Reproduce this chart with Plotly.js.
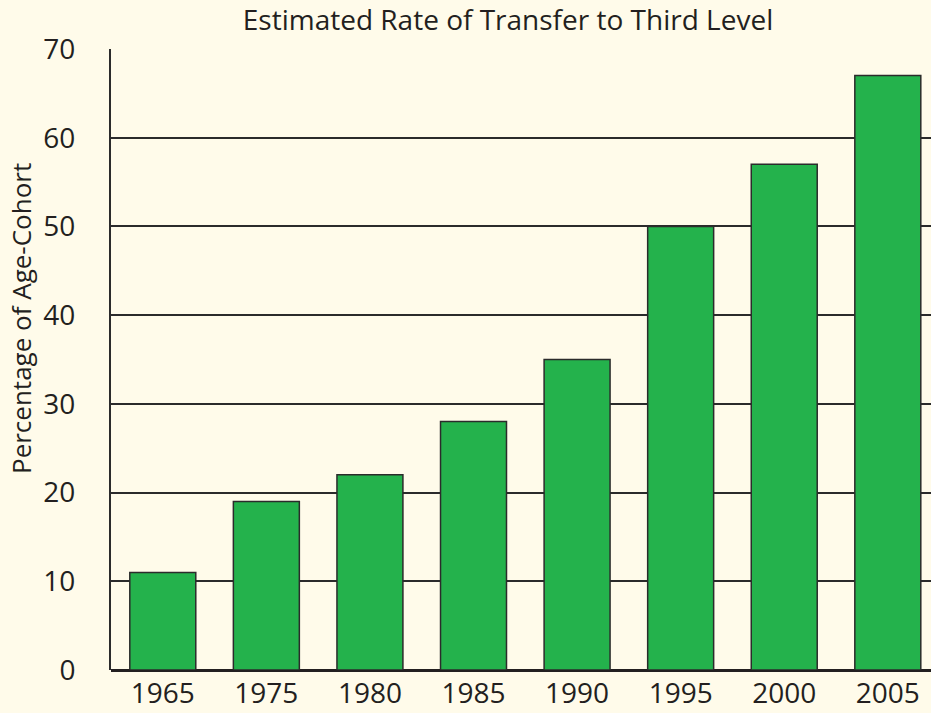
<!DOCTYPE html>
<html>
<head>
<meta charset="utf-8">
<script src="https://cdn.plot.ly/plotly-3.0.1.min.js"></script>
<style>html,body{margin:0;padding:0;background:#FFFBEA;}#chart{width:931px;height:713px;}</style>
</head>
<body>
<div id="chart"></div>
<script>
const years = ['1965','1975','1980','1985','1990','1995','2000','2005'];
const rates = [11, 19, 22, 28, 35, 50, 57, 67];
const yTicks = [0, 10, 20, 30, 40, 50, 60, 70];

const FONT = 'Open Sans, sans-serif';
const INK = '#231F20';

const trace = {
  type: 'bar',
  x: years,
  y: rates,
  width: 0.637,
  marker: {color: '#24B24C', line: {color: '#2b2b2b', width: 1.5}},
  hoverinfo: 'x+y'
};

const layout = {
  width: 931, height: 713,
  paper_bgcolor: '#FFFBEA', plot_bgcolor: '#FFFBEA',
  margin: {l: 111, r: 0, t: 49, b: 43},
  showlegend: false,
  font: {family: FONT, color: INK, size: 28},
  title: {text: 'Estimated Rate of Transfer to Third Level', font: {family: FONT, size: 28, color: INK},
          x: 508/931, xanchor: 'center', xref: 'container', y: 1 - 20/713, yanchor: 'middle', yref: 'container'},
  xaxis: {type: 'category', range: [-0.5, 7.417], showgrid: false, zeroline: false, showline: false,
          ticks: '', tickfont: {size: 28, family: FONT, color: INK}, ticklabelstandoff: 4},
  yaxis: {range: [0, 70], tickvals: yTicks, ticktext: yTicks.map(String), showgrid: true, gridcolor: '#2b2b2b', gridwidth: 2,
          zeroline: true, zerolinecolor: INK, zerolinewidth: 3, showline: true, linecolor: '#2b2b2b', linewidth: 2,
          ticks: '', tickfont: {size: 28, family: FONT, color: INK}, ticklabelstandoff: 28},
  annotations: [{text: 'Percentage of Age-Cohort', xref: 'paper', yref: 'paper', x: 0, xshift: -90,
                 y: (670-319)/621, textangle: -90, showarrow: false, xanchor: 'center', yanchor: 'middle',
                 font: {family: FONT, size: 26, color: INK}}]
};

Plotly.newPlot('chart', [trace], layout, {displayModeBar: false});
</script>
</body>
</html>
